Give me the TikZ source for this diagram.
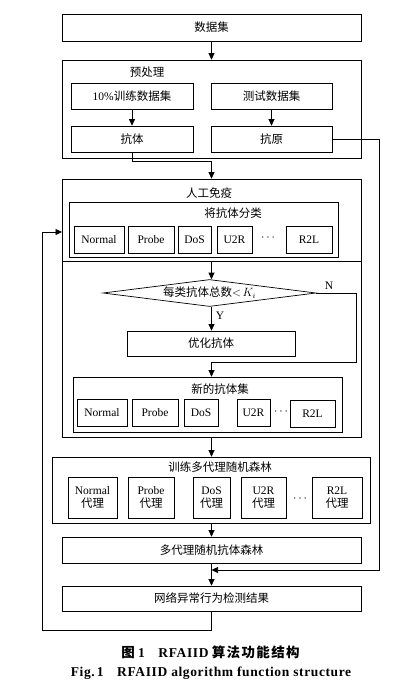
\documentclass[tikz,border=0pt]{standalone}
\usepackage{fontspec}
\setmainfont{Liberation Serif}
\newfontfamily\cjk{Noto Sans CJK SC}
\newfontfamily\capfont[LetterSpace=4.5]{Liberation Serif}
\newfontfamily\capcjk[LetterSpace=10]{Noto Sans CJK SC}
\usetikzlibrary{arrows.meta,shapes.geometric}
\newcommand\zh[1]{{\cjk #1}}
\tikzset{
  box/.style={draw, line width=0.7pt, inner sep=0pt, align=center},
  lbl/.style={inner sep=0pt},
  arr/.style={line width=0.7pt, -{Triangle[length=6.5pt,width=6pt]}},
  ln/.style={line width=0.7pt},
}
\begin{document}
\begin{tikzpicture}[x=1pt,y=-1pt,font=\fontsize{11.5}{13.5}\selectfont]
\useasboundingbox (0,0) rectangle (417,686);
\fill[white] (0,0) rectangle (417,686);
% top
\node[box, minimum width=299, minimum height=27] (ds) at (211.5,27.5) {\zh{数据集}};
\node[box, minimum width=299, minimum height=98] (pre) at (211.5,109) {};
\node[lbl] (prel) at (147,72) {\zh{预处理}};
\node[box, minimum width=122, minimum height=26] (train) at (132,96) {10\%\zh{训练数据集}};
\node[box, minimum width=121, minimum height=26] (test) at (271.5,96) {\zh{测试数据集}};
\node[box, minimum width=122, minimum height=26] (ab) at (132,139) {\zh{抗体}};
\node[box, minimum width=121, minimum height=26] (ag) at (271.5,139) {\zh{抗原}};
% immunity
\node[box, minimum width=299, minimum height=258] (imm) at (211.5,308) {};
\node[lbl] (imml) at (209,193) {\zh{人工免疫}};
\node[box, minimum width=269, minimum height=55] (cls) at (203.5,229.5) {};
\node[lbl] (clsl) at (233,213) {\zh{将抗体分类}};
\node[box, minimum width=50, minimum height=27] (c1) at (99,239.5) {Normal};
\node[box, minimum width=46, minimum height=27] (c2) at (151,239.5) {Probe};
\node[box, minimum width=33, minimum height=27] (c3) at (194.5,239.5) {DoS};
\node[box, minimum width=35, minimum height=27] (c4) at (234.5,239.5) {U2R};
\node[lbl] (cd) at (268,238) {$\cdots$};
\node[box, minimum width=46, minimum height=27] (c5) at (309,239.5) {R2L};
\coordinate (sepL) at (62,261);
\coordinate (sepR) at (361,261);
\coordinate (sepM) at (211.5,261);
\draw[ln] (sepL) -- (sepR);
\node[draw, diamond, aspect=7.9, line width=0.7pt, inner sep=0pt, minimum width=213, minimum height=27] (dia) at (209.5,293) {\zh{每类抗体总数}$<\!K_i$};
\node[lbl] (nl) at (329,286) {N};
\node[lbl] (yl) at (220,316) {Y};
\node[box, minimum width=168, minimum height=25] (opt) at (211,343.5) {\zh{优化抗体}};
\node[box, minimum width=269, minimum height=55] (ns) at (207.5,404.5) {};
\node[lbl] (nsl) at (220,389) {\zh{新的抗体集}};
\node[box, minimum width=50, minimum height=27] (n1) at (102,412.5) {Normal};
\node[box, minimum width=46, minimum height=27] (n2) at (155,412.5) {Probe};
\node[box, minimum width=34, minimum height=27] (n3) at (201,412.5) {DoS};
\node[box, minimum width=33, minimum height=27] (n4) at (253.5,412.5) {U2R};
\node[lbl] (nd) at (281,412) {$\cdots$};
\node[box, minimum width=45, minimum height=27] (n5) at (312.5,413.5) {R2L};
% training
\node[box, minimum width=318, minimum height=66] (trn) at (211,490) {};
\node[lbl] (trnl) at (220,467) {\zh{训练多代理随机森林}};
\node[box, minimum width=49, minimum height=41] (a1) at (92.5,497.5) {Normal\\[-1pt]\zh{代理}};
\node[box, minimum width=46, minimum height=41] (a2) at (151,497.5) {Probe\\[-1pt]\zh{代理}};
\node[box, minimum width=37, minimum height=41] (a3) at (211.5,497.5) {DoS\\[-1pt]\zh{代理}};
\node[box, minimum width=45, minimum height=41] (a4) at (263.5,497.5) {U2R\\[-1pt]\zh{代理}};
\node[lbl] (ad) at (300,499) {$\cdots$};
\node[box, minimum width=50, minimum height=41] (a5) at (337,497.5) {R2L\\[-1pt]\zh{代理}};
\node[box, minimum width=299, minimum height=26] (fst) at (211.5,550) {\zh{多代理随机抗体森林}};
\node[box, minimum width=299, minimum height=25] (res) at (211.5,598.5) {\zh{网络异常行为检测结果}};
% captions
\node[lbl, font=\bfseries\fontsize{13.5}{15}\selectfont] (cap1) at (210.5,652) {{\capcjk 图} {\capfont 1}\quad {\capfont RFAIID} {\capcjk 算法功能结构}};
\node[lbl, font=\bfseries\fontsize{13.5}{15}\selectfont] (cap2) at (211,673) {\capfont Fig.\,1\quad RFAIID algorithm function structure};
% connectors
\coordinate (rt) at (379,570);
\coordinate (mj) at (211.5,570);
\coordinate (fb1) at (42,630);
\coordinate (fb2) at (62,232);
\draw[arr] (ds) -- (pre);
\draw[arr] (train) -- (ab);
\draw[arr] (test) -- (ag);
\draw[arr] (ab.south) -- ++(0,9) -| (imm.north);
\draw[arr] (sepM) -- (sepM |- dia.north);
\draw[arr] (sepM |- dia.south) -- (sepM |- opt.north);
\draw[arr] (dia.east) -| (356,362) -| (ns.north -| sepM);
\draw[arr] (imm.south) -- (imm.south |- trn.north);
\draw[arr] (trn.south -| sepM) -- (fst.north);
\draw[arr] (fst.south) -- (res.north);
\draw[arr] (ag.east) -| (rt) -- (mj);
\draw[arr] (res.south) |- (fb1) |- (fb2);
\end{tikzpicture}
\end{document}
